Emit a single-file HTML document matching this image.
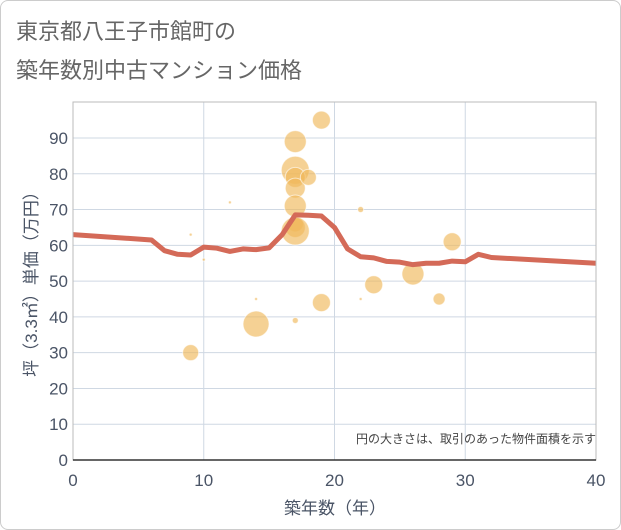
<!DOCTYPE html>
<html><head><meta charset="utf-8"><style>
body{margin:0;background:#fff;font-family:"Liberation Sans","Noto Sans CJK JP",sans-serif;}
#card{position:absolute;left:0;top:0;width:619px;height:528px;border:1px solid #ccc;border-radius:8px;background:#fff;}
</style></head><body>
<div id="card"></div>
<svg id="chart" width="621" height="530" style="position:absolute;left:0;top:0">
<text x="16" y="39" font-size="22" fill="#666">東京都八王子市館町の</text>
<text x="16" y="78" font-size="22" fill="#666">築年数別中古マンション価格</text>
<g id="grid"></g><g id="bubbles"></g><g id="line"></g><g id="axes"></g>
<text x="596" y="443" font-size="12" fill="#444" text-anchor="end">円の大きさは、取引のあった物件面積を示す</text>
<text x="335" y="514" font-size="17" fill="#4a5466" text-anchor="middle">築年数（年）</text>
<text transform="translate(37,280) rotate(-90)" font-size="17" fill="#4a5466" text-anchor="middle">坪（3.3㎡）単価（万円）</text>
</svg>
<script>
const xTicks=[0,10,20,30,40];
const yTicks=[0,10,20,30,40,50,60,70,80,90];
const bubbleX=[9,9,10,12,14,14,17,17,17,17,17,17,17,17,17,18,19,19,22,22,23,26,28,29];
const bubbleY=[30,63,56,72,38,45,89,81,79,76,71,66,65,64,39,79,95,44,70,45,49,52,45,61];
const bubbleR=[8,1.5,1.5,1.5,13,1.5,11,14,10,10,11,8,10,14,3,8,9,9,3,1.5,9,11,6,9];
const lineX=[0,6,7,8,9,10,11,12,13,14,15,16,17,18,19,20,21,22,23,24,25,26,27,28,29,30,31,32,40];
const lineY=[63,61.5,58.5,57.5,57.3,59.5,59.2,58.3,59,58.8,59.3,63,68.5,68.4,68.2,65,59,56.8,56.5,55.5,55.3,54.6,55,55,55.6,55.4,57.5,56.6,55];
const L=73,R=596,T=102,B=460;
const sx=v=>L+(R-L)*v/40, sy=v=>B-(B-138)*v/90;
const NS="http://www.w3.org/2000/svg";
function mk(t,p,a){const e=document.createElementNS(NS,t);for(const k in a)e.setAttribute(k,a[k]);p.appendChild(e);return e;}
const grid=document.getElementById('grid');
yTicks.forEach(v=>{const l=mk('line',grid,{x1:L,x2:R,y1:sy(v),y2:sy(v),stroke:'#cfd8e3','stroke-width':1});

});
xTicks.forEach(v=>{const l=mk('line',grid,{x1:sx(v),x2:sx(v),y1:T,y2:B,stroke:'#cfd8e3','stroke-width':1});

});
const bg=document.getElementById('bubbles');
bubbleX.forEach((x,i)=>{const c=mk('circle',bg,{cx:sx(x),cy:sy(bubbleY[i]),r:bubbleR[i],fill:'#f0b95a','fill-opacity':0.65,stroke:'#fff','stroke-opacity':0.6,'stroke-width':1});

});
const lg=document.getElementById('line');
const p=mk('polyline',lg,{points:lineX.map((x,i)=>sx(x)+','+sy(lineY[i])).join(' '),fill:'none',stroke:'#d46a58','stroke-width':5,'stroke-linejoin':'round'});


const ax=document.getElementById('axes');
const fr=mk('rect',ax,{x:L,y:T,width:R-L,height:B-T,fill:'none',stroke:'#bbb'});


const xa=mk('line',ax,{x1:L,x2:R,y1:B,y2:B,stroke:'#333','stroke-width':1.5});


xTicks.forEach(v=>{const t=mk('text',ax,{x:sx(v),y:B+26,'font-size':17,fill:'#4a5466','text-anchor':'middle'});t.textContent=v;

});
yTicks.forEach(v=>{const t=mk('text',ax,{x:L-5,y:sy(v)+6,'font-size':17,fill:'#4a5466','text-anchor':'end'});t.textContent=v;

});
</script>
</body></html>
